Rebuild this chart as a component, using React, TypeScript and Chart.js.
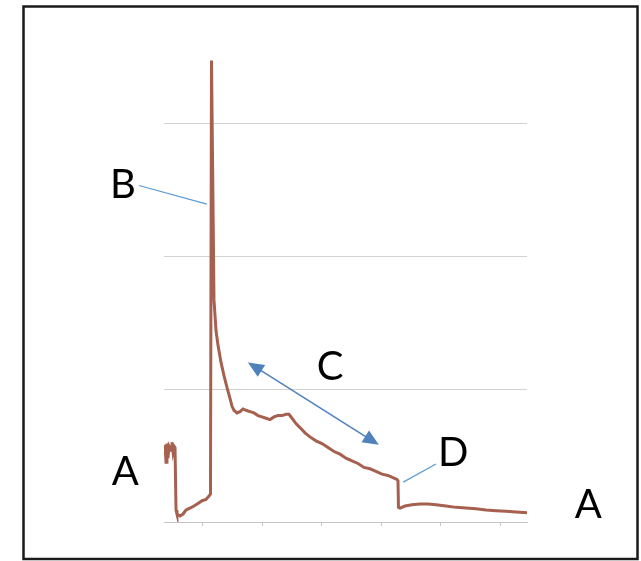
import React, { useEffect, useRef } from 'react';
import { Chart, registerables } from 'chart.js';

Chart.register(...registerables);

// Time axis (arbitrary units, tick every 100)
const timeValues = [
  -65, -63.3, -61.6, -60, -58.3, -56.6, -53.2, -51.6, -49.9, -48.2, -46.5,
  -44.8, -43.2, -38.1, -33, -28, -21.3, -14.6, -7.9, -1.1, 5.6, 10.6, 13.1,
  14.8, 17.3, 19, 22.4, 25.7, 30.8, 35.8, 40.9, 45.9, 49.3, 52.6, 57.7, 62.7,
  67.8, 72.8, 79.5, 86.2, 93, 99.7, 106.4, 113.1, 119.8, 126.6, 133.3, 140,
  145, 150.1, 156.8, 163.5, 171.9, 180.3, 190.4, 200.5, 210.6, 220.7, 230.8,
  240.8, 250.9, 261, 271.1, 281.2, 291.2, 301.3, 311.4, 321.5, 326.5, 328.2,
  329, 331.6, 340, 351.7, 365.2, 378.6, 392, 408.9, 425.7, 442.5, 459.3,
  476.1, 492.9, 509.7, 526.5, 545,
];

// Signal values
const signalValues = [
  0.5, 0.58, 0.45, 0.59, 0.48, 0.57, 0.54, 0.6, 0.53, 0.57, 0.56,
  0.09, 0.06, 0.045, 0.06, 0.09, 0.105, 0.12, 0.14, 0.16, 0.17, 0.195, 0.21,
  3.47, 2.42, 1.67, 1.44, 1.33, 1.2, 1.1, 1.01, 0.93, 0.87, 0.84, 0.82, 0.83,
  0.85, 0.84, 0.83, 0.82, 0.8, 0.79, 0.78, 0.77, 0.79, 0.8, 0.8, 0.81,
  0.81, 0.78, 0.74, 0.71, 0.67, 0.64, 0.61, 0.59, 0.56, 0.53, 0.51,
  0.48, 0.46, 0.44, 0.41, 0.4, 0.38, 0.36, 0.35, 0.33, 0.32, 0.31,
  0.11, 0.105, 0.12, 0.13, 0.135, 0.135, 0.13, 0.12, 0.11, 0.105, 0.1,
  0.09, 0.085, 0.08, 0.075, 0.07,
];

const xTickValues = [0, 100, 200, 300, 400, 500];
const yGridValues = [0, 1, 2, 3];
const X_MIN = -65;
const X_MAX = 545;
const Y_MIN = 0;
const Y_MAX = 3.5;

// Annotation letters (placed in data coordinates)
const annotationLetters = ['B', 'A', 'A', 'C', 'D'];
const annotationX = [-134, -130, 648, 214, 421];
const annotationY = [2.53, 0.376, 0.128, 1.165, 0.52];

const leaderLines = [
  { x1: -107, y1: 2.53, x2: 7, y2: 2.39 },
  { x1: 337, y1: 0.3, x2: 392, y2: 0.436 },
];
const doubleArrow = { x1: 76, y1: 1.2, x2: 296, y2: 0.58 };

const BLUE = '#4f81bd';

const annotationPlugin = {
  id: 'annotations',
  afterDatasetsDraw(chart: any) {
    const { ctx } = chart;
    const xs = chart.scales.x;
    const ys = chart.scales.y;
    const px = (v: number) => xs.getPixelForValue(v);
    const py = (v: number) => ys.getPixelForValue(v);
    ctx.save();
    // leader lines
    ctx.strokeStyle = '#5b9bd5';
    ctx.lineWidth = 1.2;
    leaderLines.forEach((l) => {
      ctx.beginPath();
      ctx.moveTo(px(l.x1), py(l.y1));
      ctx.lineTo(px(l.x2), py(l.y2));
      ctx.stroke();
    });
    // double arrow
    const ax1 = px(doubleArrow.x1), ay1 = py(doubleArrow.y1);
    const ax2 = px(doubleArrow.x2), ay2 = py(doubleArrow.y2);
    const ang = Math.atan2(ay2 - ay1, ax2 - ax1);
    const headLen = 16;
    const headW = 7;
    ctx.strokeStyle = BLUE;
    ctx.fillStyle = BLUE;
    ctx.lineWidth = 1.5;
    ctx.beginPath();
    ctx.moveTo(ax1 + Math.cos(ang) * headLen * 0.8, ay1 + Math.sin(ang) * headLen * 0.8);
    ctx.lineTo(ax2 - Math.cos(ang) * headLen * 0.8, ay2 - Math.sin(ang) * headLen * 0.8);
    ctx.stroke();
    const head = (tx: number, ty: number, a: number) => {
      const bx = tx - Math.cos(a) * headLen;
      const by = ty - Math.sin(a) * headLen;
      ctx.beginPath();
      ctx.moveTo(tx, ty);
      ctx.lineTo(bx + Math.cos(a + Math.PI / 2) * headW, by + Math.sin(a + Math.PI / 2) * headW);
      ctx.lineTo(bx - Math.cos(a + Math.PI / 2) * headW, by - Math.sin(a + Math.PI / 2) * headW);
      ctx.closePath();
      ctx.fill();
    };
    head(ax2, ay2, ang);
    head(ax1, ay1, ang + Math.PI);
    // letters
    ctx.fillStyle = '#000';
    ctx.font = '40px Lato, "Open Sans", sans-serif';
    ctx.textAlign = 'center';
    ctx.textBaseline = 'middle';
    annotationLetters.forEach((t, i) => {
      ctx.fillText(t, px(annotationX[i]), py(annotationY[i]));
    });
    ctx.restore();
  },
  afterDraw(chart: any) {
    const { ctx } = chart;
    ctx.save();
    ctx.strokeStyle = '#1a1a1a';
    ctx.lineWidth = 2.5;
    ctx.strokeRect(23.5, 6.5, 614, 552.5);
    ctx.restore();
  },
};

const whiteBg = {
  id: 'whiteBg',
  beforeDraw(chart: any) {
    const { ctx, width, height } = chart;
    ctx.save();
    ctx.fillStyle = '#ffffff';
    ctx.fillRect(0, 0, width, height);
    ctx.restore();
  },
};

export default function App() {
  const canvasRef = useRef<HTMLCanvasElement | null>(null);

  useEffect(() => {
    if (!canvasRef.current) return;
    const points = timeValues.map((t, i) => ({ x: t, y: signalValues[i] }));
    const chart = new Chart(canvasRef.current, {
      type: 'line',
      data: {
        datasets: [
          {
            data: points,
            borderColor: '#a5604f',
            borderWidth: 3,
            pointRadius: 0,
            tension: 0,
            fill: false,
          },
        ],
      },
      options: {
        animation: false,
        responsive: false,
        devicePixelRatio: 1,
        events: [],
        layout: { padding: { left: 164, right: 114, top: 56.5, bottom: 35 } },
        plugins: { legend: { display: false }, tooltip: { enabled: false } },
        scales: {
          x: {
            type: 'linear',
            min: X_MIN,
            max: X_MAX,
            afterBuildTicks: (scale: any) => {
              scale.ticks = xTickValues.map((v) => ({ value: v }));
            },
            ticks: { display: false },
            grid: {
              drawOnChartArea: false,
              drawTicks: true,
              tickLength: 4,
              color: '#c4c4c4',
              lineWidth: 1,
            },
            border: { display: true, color: '#c4c4c4', width: 1 },
          },
          y: {
            type: 'linear',
            min: Y_MIN,
            max: Y_MAX,
            afterBuildTicks: (scale: any) => {
              scale.ticks = yGridValues.map((v) => ({ value: v }));
            },
            ticks: { display: false },
            grid: { drawTicks: false, color: '#d2d2d2', lineWidth: 1 },
            border: { display: false },
          },
        },
      },
      plugins: [whiteBg, annotationPlugin],
    });
    return () => chart.destroy();
  }, []);

  return (
    <div style={{ position: 'absolute', left: 0, top: 0, width: 641, height: 561, background: '#fff' }}>
      <canvas ref={canvasRef} width={641} height={561} style={{ display: 'block' }} />
    </div>
  );
}
